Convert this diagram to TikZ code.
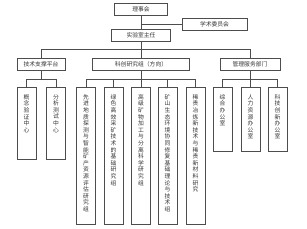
\documentclass[tikz,border=0pt]{standalone}
\usepackage{fontspec}
\newfontfamily\cjk{Noto Sans CJK SC}
\XeTeXlinebreaklocale "zh"
\XeTeXlinebreakskip=0pt plus 1pt
\usepackage{tikz}
\usetikzlibrary{calc,positioning}
\definecolor{orgline}{HTML}{4D4D4D}
\definecolor{orgtext}{HTML}{333333}
% one column of characters, top aligned in a column of fixed height
\newcommand\orgvtext[2]{\vbox to #1{\hsize=7pt\parindent=0pt\centering
  \baselineskip=6.6pt\vskip 2pt #2\par\vfil}}
\tikzset{
 org link/.style={orgline,line width=.7pt},
 org box/.style={draw=orgline,line width=.7pt,minimum height=12pt,inner sep=0pt,
                 text=orgtext,font={\cjk\fontsize{5.8}{6.6}\selectfont}},
 org vbox/.style={draw=orgline,line width=.7pt,anchor=north,minimum width=19pt,
                  inner xsep=0pt,inner ysep=5pt,text=orgtext,
                  font={\cjk\fontsize{5.8}{6.6}\selectfont}}
}
\begin{document}
\begin{tikzpicture}[x=1pt,y=-1pt]
 \useasboundingbox (0,0) rectangle (307,229);
 % bus heights of the two lower levels
 \coordinate (bus1) at (0,49);
 \coordinate (bus2) at (0,79);

 \node[org box,minimum width=53pt] (lsh) at (141,9) {理事会};
 \node[org box,minimum width=65pt] (xsw) at (214.5,24) {学术委员会};
 \node[org box,minimum width=59pt] (zr) at (141,35.5) {实验室主任};

 \node[org box,minimum width=48pt] (jszc) at (41,64.5) {技术支撑平台};
 \node[org box,minimum width=97pt] (kcyj) at (141,64.5) {科创研究组（方向）};
 \node[org box,minimum width=60pt] (glfw) at (250,64.5) {管理服务部门};

 \node[org vbox] (js1) at (26.5,87) {\orgvtext{62pt}{概念验证中心}};
 \node[org vbox] (js2) at (56,87) {\orgvtext{62pt}{分析测试中心}};
 \node[org vbox] (kc1) at (86,87) {\orgvtext{127pt}{先进地质探测与智能矿产资源评估研究组}};
 \node[org vbox] (kc2) at (113.5,87) {\orgvtext{127pt}{绿色高效采矿技术的基础研究组}};
 \node[org vbox] (kc3) at (141,87) {\orgvtext{127pt}{高级矿物加工与分离科学研究组}};
 \node[org vbox] (kc4) at (167.5,87) {\orgvtext{127pt}{矿山生态环境协同修复基础理论与技术组}};
 \node[org vbox] (kc5) at (195.5,87) {\orgvtext{127pt}{稀贵冶炼新技术与稀贵新材料研究}};
 \node[org vbox] (gl1) at (222.5,87) {\orgvtext{54pt}{综合办公室}};
 \node[org vbox] (gl2) at (250.5,87) {\orgvtext{54pt}{人力资源办公室}};
 \node[org vbox] (gl3) at (277.5,87) {\orgvtext{54pt}{科技创新办公室}};

 \draw[org link] (lsh.south)--(zr.north);
 \draw[org link] (xsw.west)--(xsw.west -| lsh.south);
 \draw[org link] (zr.south)--(kcyj.north);
 \draw[org link] (jszc.north)--(jszc.north |- bus1)-|(glfw.north);

 \draw[org link] (jszc.south)--(jszc.south |- bus2);
 \draw[org link] (js1.north)--(js1.north |- bus2)-|(js2.north);
 \draw[org link] (kcyj.south)--(kcyj.south |- bus2);
 \draw[org link] (kc1.north)--(kc1.north |- bus2)-|(kc5.north);
 \foreach \v in {2,3,4} \draw[org link] (kc\v.north)--(kc\v.north |- bus2);
 \draw[org link] (glfw.south)--(glfw.south |- bus2);
 \draw[org link] (gl1.north)--(gl1.north |- bus2)-|(gl3.north);
 \draw[org link] (gl2.north)--(gl2.north |- bus2);
\end{tikzpicture}
\end{document}
